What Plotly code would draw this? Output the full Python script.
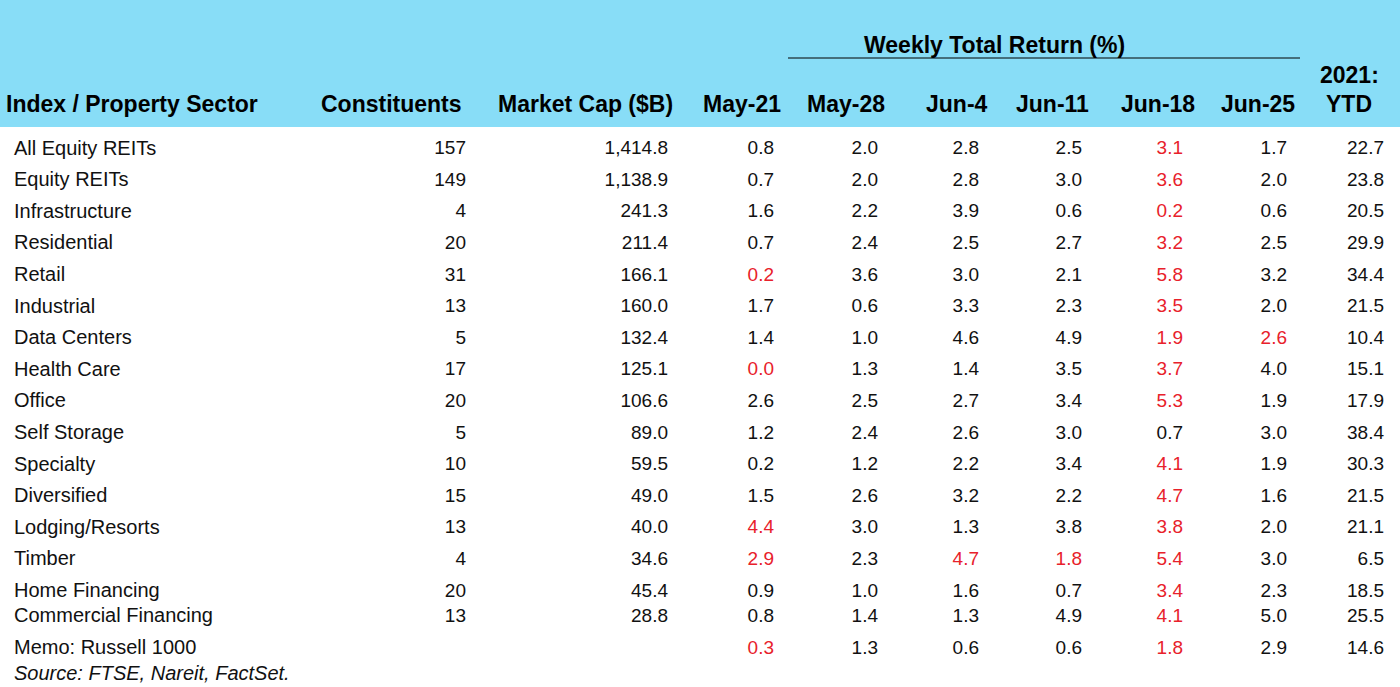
import math
import plotly.graph_objects as go

# ---------------- data ----------------
sectors = ["All Equity REITs", "Equity REITs", "Infrastructure", "Residential", "Retail",
           "Industrial", "Data Centers", "Health Care", "Office", "Self Storage", "Specialty",
           "Diversified", "Lodging/Resorts", "Timber", "Home Financing",
           "Commercial Financing", "Memo: Russell 1000"]
constituents = [157, 149, 4, 20, 31, 13, 5, 17, 20, 5, 10, 15, 13, 4, 20, 13, None]
market_cap = [1414.8, 1138.9, 241.3, 211.4, 166.1, 160.0, 132.4, 125.1, 106.6, 89.0, 59.5,
              49.0, 40.0, 34.6, 45.4, 28.8, None]
week_labels = ["May-21", "May-28", "Jun-4", "Jun-11", "Jun-18", "Jun-25"]
may21 = [0.8, 0.7, 1.6, 0.7, -0.2, 1.7, 1.4, -0.0, 2.6, 1.2, 0.2, 1.5, -4.4, -2.9, 0.9, 0.8, -0.3]
may28 = [2.0, 2.0, 2.2, 2.4, 3.6, 0.6, 1.0, 1.3, 2.5, 2.4, 1.2, 2.6, 3.0, 2.3, 1.0, 1.4, 1.3]
jun4 = [2.8, 2.8, 3.9, 2.5, 3.0, 3.3, 4.6, 1.4, 2.7, 2.6, 2.2, 3.2, 1.3, -4.7, 1.6, 1.3, 0.6]
jun11 = [2.5, 3.0, 0.6, 2.7, 2.1, 2.3, 4.9, 3.5, 3.4, 3.0, 3.4, 2.2, 3.8, -1.8, 0.7, 4.9, 0.6]
jun18 = [-3.1, -3.6, -0.2, -3.2, -5.8, -3.5, -1.9, -3.7, -5.3, 0.7, -4.1, -4.7, -3.8, -5.4, -3.4, -4.1, -1.8]
jun25 = [1.7, 2.0, 0.6, 2.5, 3.2, 2.0, -2.6, 4.0, 1.9, 3.0, 1.9, 1.6, 2.0, 3.0, 2.3, 5.0, 2.9]
ytd = [22.7, 23.8, 20.5, 29.9, 34.4, 21.5, 10.4, 15.1, 17.9, 38.4, 30.3, 21.5, 21.1, 6.5, 18.5, 25.5, 14.6]
source_note = "Source: FTSE, Nareit, FactSet."

# ---------------- layout helpers ----------------
FONT = "Liberation Sans, Arial, sans-serif"
BODY = 19
LABEL = 20
HEAD = 23
BLACK = "#111111"
RED = "#e8212b"
HEADER_BG = "#88ddf7"

# vertical step between rows (in row units); two last rows are tighter
row_steps = [0] + [1] * 14 + [0.8, 1.0]
row_pos = []
acc = 0.0
for s in row_steps:
    acc += s
    row_pos.append(acc)
ROW_TOP, ROW_H = 149.5, 31.6
row_y = [ROW_TOP + ROW_H * p for p in row_pos]
source_y = ROW_TOP + ROW_H * (row_pos[-1] + 0.83)

# right edges of numeric columns
col_right = {"cons": 466, "mcap": 668, "weeks": [774, 878, 979, 1082, 1183, 1287], "ytd": 1384}


def is_neg(v):
    return v is not None and math.copysign(1, v) < 0


def fmt(v, digits=1, comma=False):
    if v is None:
        return ""
    a = abs(v)
    return f"{a:,.{digits}f}" if comma else f"{a:.{digits}f}"


fig = go.Figure()

# sector labels
fig.add_trace(go.Scatter(
    x=[14] * len(sectors), y=row_y, text=sectors, mode="text",
    textposition="middle right", textfont=dict(family=FONT, size=LABEL, color=BLACK),
    hoverinfo="skip", showlegend=False))

# source note
fig.add_trace(go.Scatter(
    x=[14], y=[source_y], text=[f"<i>{source_note}</i>"], mode="text",
    textposition="middle right", textfont=dict(family=FONT, size=LABEL, color=BLACK),
    hoverinfo="skip", showlegend=False))


def add_col(values, xr, digits=1, comma=False):
    fig.add_trace(go.Scatter(
        x=[xr] * len(values), y=row_y,
        text=[fmt(v, digits, comma) for v in values], mode="text",
        textposition="middle left",
        textfont=dict(family=FONT, size=BODY,
                      color=[RED if is_neg(v) else BLACK for v in values]),
        hoverinfo="skip", showlegend=False))


add_col(constituents, col_right["cons"], digits=0)
add_col(market_cap, col_right["mcap"], digits=1, comma=True)
for vals, xr in zip([may21, may28, jun4, jun11, jun18, jun25], col_right["weeks"]):
    add_col(vals, xr)
add_col(ytd, col_right["ytd"])

# header band
fig.add_shape(type="rect", xref="paper", yref="y", x0=0, x1=1, y0=0, y1=127,
              fillcolor=HEADER_BG, line_width=0, layer="below")
# underline under "Weekly Total Return (%)"
fig.add_shape(type="line", xref="x", yref="y", x0=788, x1=1300, y0=58, y1=58,
              line=dict(color="#000000", width=1))

hfont = dict(family=FONT, size=HEAD, color="#000000")
HEAD_Y = 104


def head(text, x, anchor, y=HEAD_Y):
    fig.add_annotation(x=x, y=y, xref="x", yref="y", text=f"<b>{text}</b>",
                       showarrow=False, xanchor=anchor, yanchor="middle", font=hfont)


head("Index / Property Sector", 4, "left")
head("Constituents", 464, "right")
head("Market Cap ($B)", 675, "right")
for lab, xr in zip(week_labels, [783, 887, 990, 1091, 1197, 1297]):
    head(lab, xr, "right")
head("2021:", 1349, "center", y=75)
head("YTD", 1349, "center")
head("Weekly Total Return (%)", 994, "center", y=45)

fig.update_layout(
    width=1400, height=687,
    margin=dict(l=0, r=0, t=0, b=0),
    paper_bgcolor="white", plot_bgcolor="white",
    xaxis=dict(range=[0, 1400], visible=False, fixedrange=True),
    yaxis=dict(range=[687, 0], visible=False, fixedrange=True),
)

fig.write_html("out.html", config={"displayModeBar": False},
               post_script="document.body.style.margin='0';document.body.style.overflow='hidden';")
